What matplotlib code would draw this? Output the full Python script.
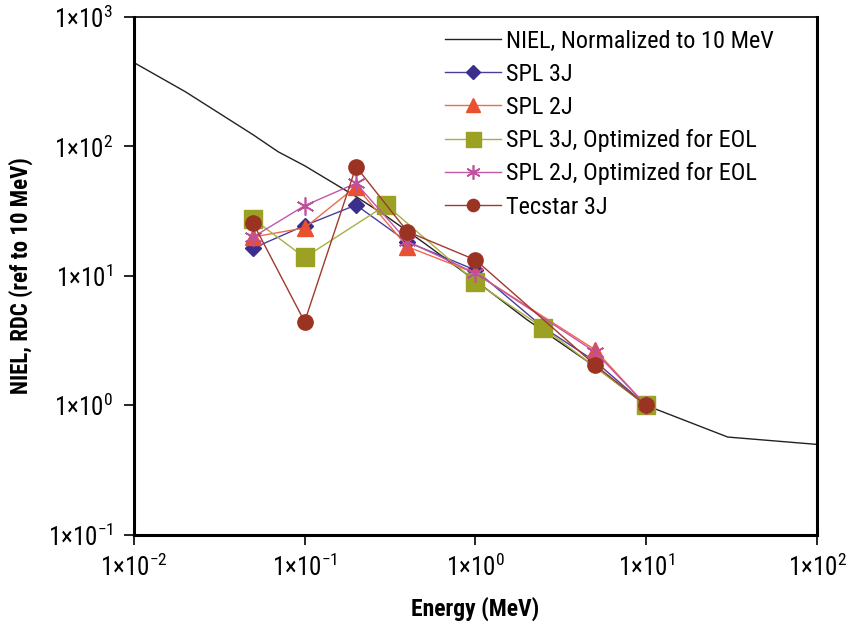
import math
import matplotlib
matplotlib.use("Agg")
import matplotlib.pyplot as plt
import matplotlib.ticker as mticker
from matplotlib import font_manager

# pick a condensed sans if one is installed
names = {f.name for f in font_manager.fontManager.ttflist}
narrow = "Liberation Sans"
for cand in ["Liberation Sans Narrow", "DejaVu Sans Condensed", "Roboto Condensed",
             "Open Sans Condensed", "Arial Narrow"]:
    if cand in names:
        narrow = cand
        break

plt.rcParams["font.family"] = [narrow, "DejaVu Sans"]
plt.rcParams["mathtext.fontset"] = "custom"
plt.rcParams["mathtext.rm"] = narrow
plt.rcParams["mathtext.it"] = narrow + ":italic"
plt.rcParams["mathtext.bf"] = narrow + ":bold"

# NIEL curve, normalized to 10 MeV
niel_e = [0.01, 0.02, 0.05, 0.07, 0.1, 0.2, 0.3, 0.5, 1, 2, 5, 10, 30, 100]
niel_v = [445, 265, 123, 91, 71, 41, 29, 18, 9.2, 4.6, 2.0, 1.0, 0.57, 0.5]

# RDC data
spl3j_e = [0.05, 0.1, 0.2, 0.4, 1, 2.5, 5, 10]
spl3j_v = [16.4, 24.5, 35.3, 18.3, 11.1, 4.0, 2.2, 1.0]

spl2j_e = [0.05, 0.1, 0.2, 0.4, 1, 5, 10]
spl2j_v = [20, 23.5, 49, 16.8, 10.5, 2.7, 1.0]

spl3j_eol_e = [0.05, 0.1, 0.3, 1, 2.5, 10]
spl3j_eol_v = [27.5, 13.9, 35.3, 9.0, 3.96, 1.0]

spl2j_eol_e = [0.05, 0.1, 0.2, 0.4, 1, 5, 10]
spl2j_eol_v = [20, 34.9, 52, 18.5, 10.5, 2.6, 1.0]

tecstar_e = [0.05, 0.1, 0.2, 0.4, 1, 5, 10]
tecstar_v = [25.5, 4.43, 69.8, 22, 13.3, 2.06, 1.0]

fig = plt.figure(figsize=(8.47, 6.22), dpi=100)
ax = fig.add_axes([0.158, 0.140, 0.8066, 0.8327])

ax.plot(niel_e, niel_v, color="#222222", lw=1.0, label="NIEL, Normalized to 10 MeV")
ax.plot(spl3j_e, spl3j_v, color="#4a3d9a", lw=1.0, marker="D", ms=8.5,
        mfc="#3b2e8c", mec="#3b2e8c", label="SPL 3J")
ax.plot(spl2j_e, spl2j_v, color="#f06a4a", lw=1.0, marker="^", ms=12,
        mfc="#e8502e", mec="#e8502e", label="SPL 2J")
ax.plot(spl3j_eol_e, spl3j_eol_v, color="#aab040", lw=1.0, marker="s", ms=13.5,
        mfc="#9ba122", mec="#9ba122", label="SPL 3J, Optimized for EOL")
ax.plot(spl2j_eol_e, spl2j_eol_v, color="#c256a8", lw=1.0, marker=(6, 2, 0), ms=13,
        mec="#c0509b", mew=1.2, label="SPL 2J, Optimized for EOL")
ax.plot(tecstar_e, tecstar_v, color="#a03a2c", lw=1.0, marker="o", ms=11,
        mfc="#9b3323", mec="#9b3323", label="Tecstar 3J")

ax.set_xscale("log")
ax.set_yscale("log")
ax.set_xlim(0.01, 100)
ax.set_ylim(0.1, 1000)

fmt = mticker.FuncFormatter(lambda v, p: r"$1{\times}10^{%d}$" % round(math.log10(v)))
ax.xaxis.set_major_locator(mticker.LogLocator(base=10, numticks=10))
ax.yaxis.set_major_locator(mticker.LogLocator(base=10, numticks=10))
ax.xaxis.set_minor_locator(mticker.NullLocator())
ax.yaxis.set_minor_locator(mticker.NullLocator())
ax.xaxis.set_major_formatter(fmt)
ax.yaxis.set_major_formatter(fmt)
ax.tick_params(axis="both", direction="out", length=7, width=1.2, labelsize=18, pad=8)
ax.tick_params(axis="x", pad=7)

for side in ["left", "bottom", "right"]:
    ax.spines[side].set_linewidth(2.2)
ax.spines["top"].set_linewidth(1.2)

ax.set_xlabel("Energy (MeV)", fontsize=17, fontweight="bold")
ax.set_ylabel("NIEL, RDC (ref to 10 MeV)", fontsize=16.5, fontweight="bold")
ax.xaxis.set_label_coords(0.5, -0.12)
ax.yaxis.set_label_coords(-0.148, 0.5)

ax.legend(loc="upper right", frameon=False, fontsize=17.5, handlelength=2.3,
          handletextpad=0.2, labelspacing=0.42, borderaxespad=0.2,
          markerscale=0.8, bbox_to_anchor=(0.958, 1.004))

fig.savefig("out.png", dpi=100)
